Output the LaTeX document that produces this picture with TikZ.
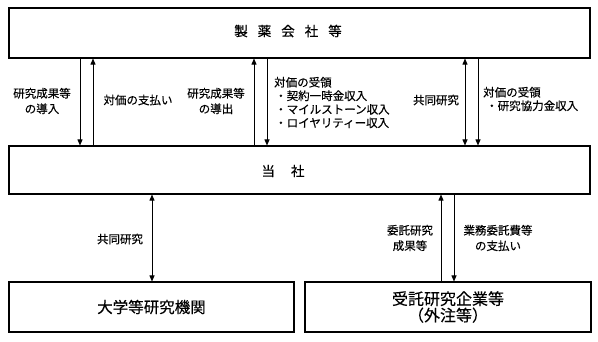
\documentclass[tikz,border=0pt]{standalone}
\usepackage{fontspec}
\setmainfont{Noto Sans CJK JP}[FakeBold=0.35]
\usetikzlibrary{arrows.meta}
\begin{document}
\begin{tikzpicture}[x=1pt,y=-1pt,
  box/.style={draw,line width=1.1pt,minimum width=581pt,inner sep=0pt},
  arr/.style={line width=0.9pt,-{Triangle[length=6pt,width=5pt]}},
  darr/.style={line width=0.9pt,{Triangle[length=6pt,width=5pt]}-{Triangle[length=6pt,width=5pt]}},
  lbl/.style={font=\fontsize{11.5pt}{15.5pt}\selectfont,align=center,inner sep=0pt},
  lst/.style={font=\fontsize{11.5pt}{13.5pt}\selectfont,align=left,inner sep=0pt,anchor=west},
  big/.style={font=\fontsize{13.5pt}{16pt}\selectfont,inner sep=0pt}
]
\useasboundingbox (0,0) rectangle (598,341);
\node[box,minimum height=50pt] (top) at (299.5,33) {};
\node[box,minimum height=48pt] (mid) at (299.5,170) {};
\node[big] (topt) at (288,31) {製\hspace{10pt}薬\hspace{10pt}会\hspace{10pt}社\hspace{10pt}等};
\node[big] (midt) at (283,171) {当\hspace{16pt}社};
\node[box,minimum width=285pt,minimum height=50pt,font=\fontsize{15.5pt}{17pt}\selectfont] (univ) at (151.5,307) {大学等研究機関};
\node[box,minimum width=286pt,minimum height=50pt,align=center,font=\fontsize{16pt}{16.5pt}\selectfont] (cro) at (448,307) {受託研究企業等\\（外注等）};
\coordinate (c1) at (80,0);
\coordinate (c2) at (93,0);
\coordinate (c3) at (254,0);
\coordinate (c4) at (267,0);
\coordinate (c5) at (465,0);
\coordinate (c6) at (478,0);
\coordinate (c7) at (152,0);
\coordinate (c8) at (441,0);
\coordinate (c9) at (454,0);
\draw[arr] (top.south -| c1) -- (mid.north -| c1);
\draw[arr] (mid.north -| c2) -- (top.south -| c2);
\draw[arr] (mid.north -| c3) -- (top.south -| c3);
\draw[arr] (top.south -| c4) -- (mid.north -| c4);
\draw[darr] (top.south -| c5) -- (mid.north -| c5);
\draw[arr] (top.south -| c6) -- (mid.north -| c6);
\draw[darr] (mid.south -| c7) -- (univ.north -| c7);
\draw[arr] (cro.north -| c8) -- (mid.south -| c8);
\draw[arr] (mid.south -| c9) -- (cro.north -| c9);
\node[lbl] (l1) at (42,101) {研究成果等\\の導入};
\node[lbl] (l2) at (138,100) {対価の支払い};
\node[lbl] (l3) at (216,101) {研究成果等\\の導出};
\node[lst] (l4) at (274,102.5) {対価の受領\\\hspace{1pt}・契約一時金収入\\\hspace{1pt}・マイルストーン収入\\\hspace{1pt}・ロイヤリティー収入};
\node[lbl] (l5) at (436,100) {共同研究};
\node[lst] (l6) at (483,99) {対価の受領\\\hspace{3pt}・研究協力金収入};
\node[lbl] (l7) at (120,239) {共同研究};
\node[lbl] (l8) at (410,238) {委託研究\\成果等};
\node[lbl] (l9) at (498,238) {業務委託費等\\の支払い};
\end{tikzpicture}
\end{document}
